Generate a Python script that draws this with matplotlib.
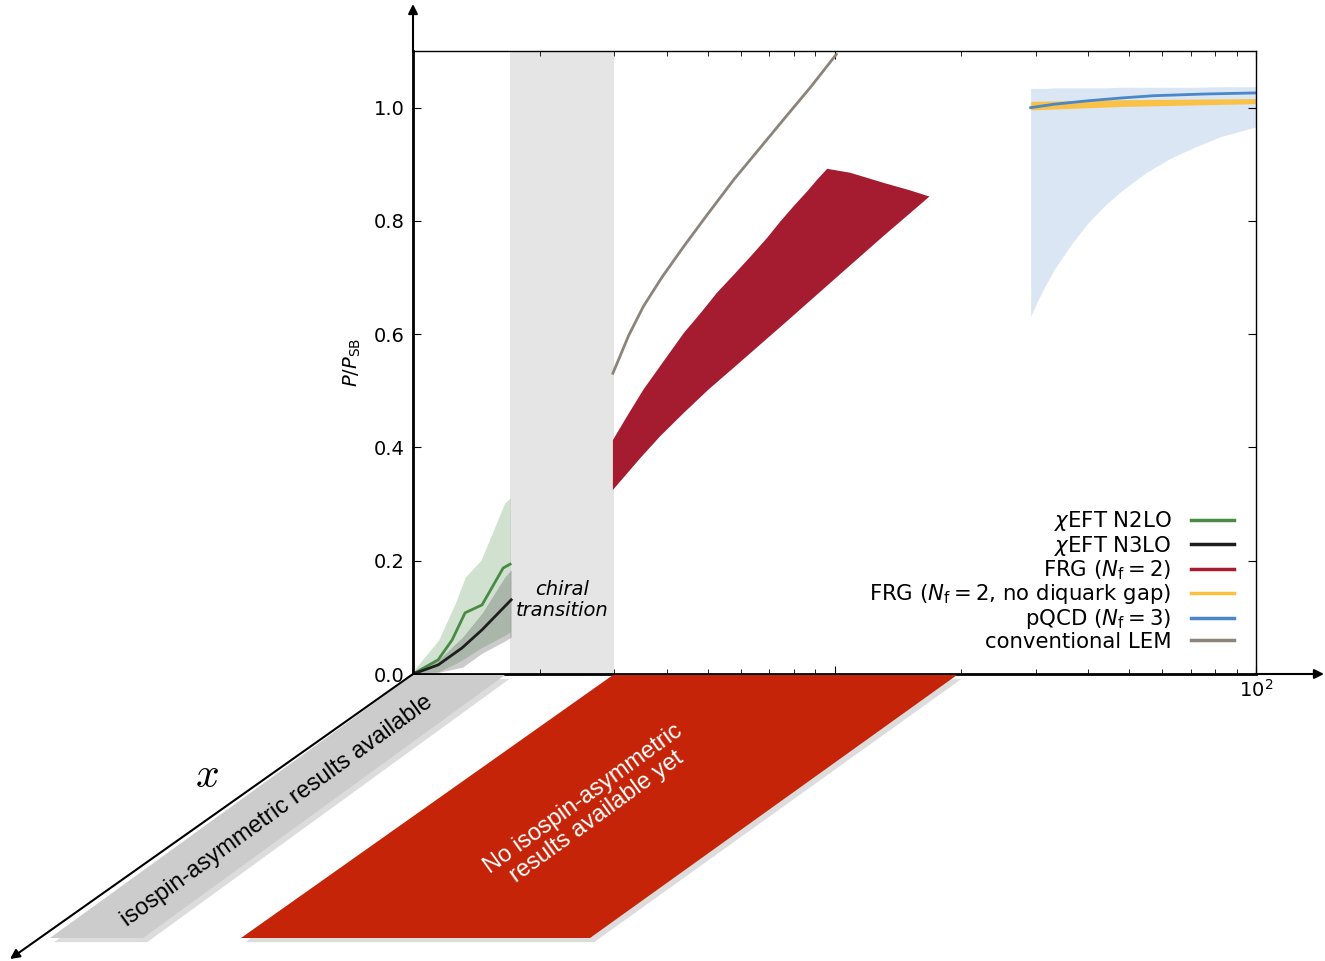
import numpy as np
import matplotlib
matplotlib.use('Agg')
import matplotlib.pyplot as plt
import matplotlib.patheffects as pe
from matplotlib.patches import Polygon
from matplotlib.lines import Line2D

# chiral EFT N2LO: central line and band
n2lo_x = [1.0, 1.147, 1.238, 1.329, 1.458, 1.636, 1.70]
n2lo_y = [0.0, 0.025, 0.060, 0.108, 0.122, 0.187, 0.194]
n2lo_band_x = [1.0, 1.15, 1.26, 1.33, 1.45, 1.65, 1.70]
n2lo_hi = [0.005, 0.060, 0.125, 0.171, 0.201, 0.302, 0.311]
n2lo_lo = [0.0, 0.004, 0.018, 0.028, 0.046, 0.068, 0.074]

# chiral EFT N3LO
n3lo_x = [1.0, 1.147, 1.307, 1.458, 1.71]
n3lo_y = [0.0, 0.016, 0.046, 0.078, 0.131]
n3lo_band_x = [1.0, 1.15, 1.31, 1.46, 1.65, 1.71]
n3lo_hi = [0.0, 0.025, 0.065, 0.108, 0.171, 0.184]
n3lo_lo = [0.0, 0.003, 0.012, 0.037, 0.058, 0.065]

# FRG (Nf = 2) band edges
frg_up_x = [2.98, 3.22, 3.52, 3.93, 4.39, 4.81, 5.26, 5.77, 6.32, 6.92, 7.44,
            8.00, 8.61, 9.10, 9.61, 10.9, 13.1, 15.1, 16.8]
frg_up_y = [0.413, 0.455, 0.502, 0.552, 0.602, 0.637, 0.673, 0.705, 0.737, 0.770,
            0.799, 0.826, 0.852, 0.873, 0.892, 0.885, 0.867, 0.854, 0.843]
frg_lo_x = [2.98, 3.22, 3.46, 3.86, 4.39, 5.02, 5.77, 7.58, 9.96, 13.1, 16.8]
frg_lo_y = [0.325, 0.354, 0.381, 0.420, 0.461, 0.502, 0.541, 0.618, 0.696, 0.774, 0.843]

# conventional LEM
lem_x = [2.98, 3.25, 3.52, 3.90, 4.39, 4.99, 5.77, 6.61, 7.57, 8.77, 10.1]
lem_y = [0.531, 0.598, 0.649, 0.701, 0.755, 0.811, 0.873, 0.926, 0.979, 1.036, 1.094]

# pQCD (Nf = 3)
pqcd_x = [29.2, 30.3, 31.7, 33.2, 36.4, 39.8, 43.6, 47.8, 54.8, 62.8, 72.0, 82.6, 100.0]
pqcd_hi = [1.034, 1.034, 1.034, 1.035, 1.035, 1.035, 1.035, 1.036, 1.036, 1.036,
           1.036, 1.037, 1.037]
pqcd_lo = [0.631, 0.658, 0.687, 0.714, 0.758, 0.795, 0.826, 0.852, 0.885, 0.911,
           0.931, 0.949, 0.966]
pqcd_line_x = [29.2, 33.2, 39.8, 47.8, 57.0, 75.0, 100.0]
pqcd_line = [1.000, 1.006, 1.012, 1.017, 1.021, 1.024, 1.026]

# FRG (Nf = 2, no diquark gap)
nogap_x = [29.2, 47.8, 100.0]
nogap_hi = [1.011, 1.014, 1.016]
nogap_lo = [0.996, 1.002, 1.007]

chiral_band = (1.7, 3.0)

W, H = 1325, 961
fig = plt.figure(figsize=(W / 100, H / 100), dpi=100)
ax = fig.add_axes([413 / W, 1 - 674 / H, (1256 - 413) / W, (674 - 51) / H])

c_n2lo = '#4a8a45'
c_n3lo = '#1e1e1e'
c_frg = '#a51c30'
c_nogap = '#fbc03e'
c_pqcd = '#4a86c8'
c_lem = '#8c8379'

ax.axvspan(*chiral_band, color='#e5e5e5', lw=0, zorder=0)
ax.text(np.sqrt(chiral_band[0] * chiral_band[1]), 0.131, 'chiral\ntransition',
        ha='center', va='center', style='italic', fontsize=14, linespacing=1.1)

ax.fill_between(n2lo_band_x, n2lo_lo, n2lo_hi, color=c_n2lo, alpha=0.25, lw=0)
ax.fill_between(n3lo_band_x, n3lo_lo, n3lo_hi, color='#555555', alpha=0.3, lw=0)
ax.plot(n2lo_x, n2lo_y, color=c_n2lo, lw=2)
ax.plot(n3lo_x, n3lo_y, color=c_n3lo, lw=2)

ax.fill(np.concatenate([frg_up_x, frg_lo_x[::-1]]),
        np.concatenate([frg_up_y, frg_lo_y[::-1]]), color=c_frg, lw=0)
ax.plot(lem_x, lem_y, color=c_lem, lw=2)

ax.fill_between(pqcd_x, pqcd_lo, pqcd_hi, color=c_pqcd, alpha=0.2, lw=0)
ax.fill_between(nogap_x, nogap_lo, nogap_hi, color=c_nogap, alpha=0.95, lw=0)
ax.plot(pqcd_line_x, pqcd_line, color=c_pqcd, lw=2)

ax.set_xscale('log')
ax.set_xlim(1, 100)
ax.set_ylim(0, 1.1)
ax.set_xticks([1, 10, 100], labels=['', '', r'$10^2$'])
ax.set_yticks([0, 0.2, 0.4, 0.6, 0.8, 1.0])
ax.tick_params(which='both', direction='in', top=True, right=True, labelsize=14)
ax.tick_params(which='major', length=6)
ax.tick_params(which='minor', length=3.5)
ax.tick_params(axis='y', pad=6)
ax.set_ylabel(r'$P/P_{\rm SB}$', fontsize=14, labelpad=8)
for s in ['left', 'bottom']:
    ax.spines[s].set_linewidth(2)
for s in ['top', 'right']:
    ax.spines[s].set_linewidth(1)

handles = [Line2D([], [], color=c, lw=2.5) for c in
           [c_n2lo, c_n3lo, c_frg, c_nogap, c_pqcd, c_lem]]
labels = [r'$\chi$EFT N2LO', r'$\chi$EFT N3LO', r'FRG ($N_{\rm f}=2$)',
          r'FRG ($N_{\rm f}=2$, no diquark gap)', r'pQCD ($N_{\rm f}=3$)',
          'conventional LEM']
ax.legend(handles, labels, loc='lower right', frameon=False, markerfirst=False,
          fontsize=15.3, labelspacing=0.03, handlelength=2.05, handletextpad=0.9,
          bbox_to_anchor=(0.997, 0.005))

# overlay in pixel coordinates for the 3D-like decoration
ov = fig.add_axes([0, 0, 1, 1], zorder=5)
ov.set_xlim(0, W)
ov.set_ylim(H, 0)
ov.axis('off')

shadow = [pe.SimplePatchShadow(offset=(3, -3), shadow_rgbFace='0.55', alpha=0.3), pe.Normal()]
gray_para = Polygon([(413, 675), (505, 675), (143, 938), (50, 938)], closed=True,
                    facecolor='#cccccc', edgecolor='none', path_effects=shadow)
red_para = Polygon([(613, 675), (957, 675), (590, 938), (241, 938)], closed=True,
                   facecolor='#c62408', edgecolor='none', path_effects=shadow)
ov.add_patch(gray_para)
ov.add_patch(red_para)

ang = np.degrees(np.arctan2(263, 363))
ov.text(277, 811, 'isospin-asymmetric results available', rotation=ang,
        rotation_mode='anchor', ha='center', va='center', fontsize=17,
        family='Liberation Sans', color='black')
ov.text(590, 808, 'No isospin-asymmetric\nresults available yet', rotation=ang,
        rotation_mode='anchor', ha='center', va='center', fontsize=17,
        family='Liberation Sans', color='white', linespacing=1.05)

arrow = dict(arrowstyle='-|>', lw=1.5, color='black', mutation_scale=14, shrinkA=0, shrinkB=0)
ov.annotate('', xy=(413, 4), xytext=(413, 52), arrowprops=arrow)
ov.annotate('', xy=(1324, 674), xytext=(1255, 674), arrowprops=arrow)
ov.annotate('', xy=(10, 959), xytext=(413, 674), arrowprops=arrow)

ov.text(207, 775, r'$x$', fontsize=30, ha='center', va='center',
        math_fontfamily='cm')

fig.savefig('out.png', dpi=100)
